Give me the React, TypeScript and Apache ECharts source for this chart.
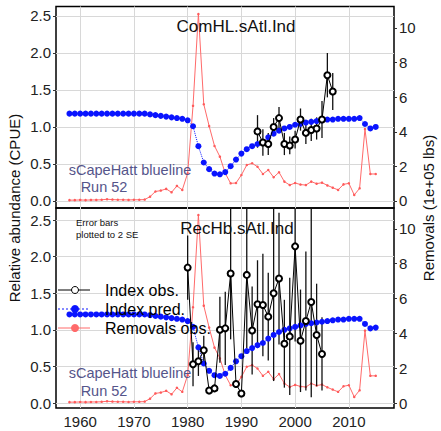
import React, { useRef, useEffect } from 'react';
import * as echarts from 'echarts';

const years: number[] = [];
for (let y = 1958; y <= 2015; y++) years.push(y);

// Removals (1e+05 lbs), 1958-2015
const removals = [
  0.05, 0.05, 0.06, 0.05, 0.06, 0.06, 0.07, 0.1, 0.08, 0.07, 0.07, 0.06, 0.07, 0.07, 0.08,
  0.25, 0.55, 0.6, 0.7, 0.5, 0.87, 0.64, 1.6, 5.5, 10.8, 5.59, 4.33, 3.18, 2.56, 1.6,
  1.02, 1.04, 1.5, 2.08, 2.18, 1.98, 1.56, 1.79, 1.37, 1.66, 1.12, 0.92, 1.04, 0.95, 0.92,
  1.12, 1.0, 1.06, 0.9, 0.77, 0.64, 0.96, 1.02, 0.35, 0.73, 4.16, 1.56, 1.56,
];

// Predicted index, ComHL.sAtl.Ind
const predTop = [
  1.18, 1.18, 1.18, 1.18, 1.18, 1.18, 1.18, 1.18, 1.18, 1.18, 1.18, 1.18, 1.18, 1.18, 1.18,
  1.17, 1.16, 1.15, 1.14, 1.13, 1.12, 1.11, 1.09, 1.01, 0.74, 0.52, 0.43, 0.37, 0.36, 0.39,
  0.47, 0.56, 0.64, 0.7, 0.74, 0.77, 0.8, 0.86, 0.91, 0.95, 0.98, 1.0, 1.03, 1.04, 1.06,
  1.07, 1.08, 1.09, 1.1, 1.1, 1.11, 1.11, 1.11, 1.11, 1.12, 1.04, 0.98, 1.0,
];

// Predicted index, RecHb.sAtl.Ind
const predBot = [
  1.21, 1.21, 1.21, 1.21, 1.21, 1.21, 1.21, 1.21, 1.21, 1.21, 1.21, 1.21, 1.21, 1.21, 1.21,
  1.2, 1.19, 1.18, 1.17, 1.16, 1.15, 1.14, 1.12, 1.04, 0.76, 0.54, 0.44, 0.38, 0.37, 0.4,
  0.48, 0.57, 0.64, 0.71, 0.75, 0.79, 0.82, 0.88, 0.93, 0.97, 1.0, 1.02, 1.04, 1.06, 1.08,
  1.09, 1.1, 1.11, 1.12, 1.13, 1.14, 1.14, 1.15, 1.15, 1.15, 1.08, 1.02, 1.03,
];

const obsTopYears = [1993, 1994, 1995, 1996, 1997, 1998, 1999, 2000, 2001, 2002, 2003, 2004, 2005, 2006, 2007];
const obsTop = [0.94, 0.79, 0.77, 1.0, 1.12, 0.77, 0.75, 0.83, 1.1, 0.92, 0.96, 0.98, 1.1, 1.7, 1.48];
const errTop = [0.22, 0.18, 0.15, 0.12, 0.15, 0.15, 0.12, 0.12, 0.15, 0.15, 0.15, 0.15, 0.25, 0.3, 0.25];

const obsBotYears = [
  1980, 1981, 1982, 1983, 1984, 1985, 1986, 1987, 1988, 1989, 1990, 1991, 1992,
  1993, 1994, 1995, 1996, 1997, 1998, 1999, 2000, 2001, 2002, 2003, 2004, 2005,
];
const obsBot = [
  1.85, 0.53, 0.57, 0.72, 0.17, 0.2, 1.0, 1.02, 1.77, 0.26, 0.13, 1.75, 0.99,
  1.35, 1.34, 1.18, 1.5, 1.7, 0.81, 0.91, 2.14, 0.85, 1.12, 1.38, 0.93, 0.67,
];
const errBot = [
  0.44, 0.3, 0.2, 0.2, 0.05, 0.05, 0.45, 0.5, 0.9, 0.05, 0.05, 1.0, 0.6,
  0.6, 0.7, 0.6, 1.2, 0.9, 0.6, 0.8, 1.3, 0.7, 0.95, 1.3, 0.7, 0.5,
];

const xTicks = [1960, 1970, 1980, 1990, 2000, 2010];
const leftTicks = [0, 0.5, 1, 1.5, 2, 2.5];
const rightTicks = [0, 2, 4, 6, 8, 10];

const X_MIN = 1955.5;
const X_MAX = 2018.4;
const LEFT = [
  { min: -0.095, max: 2.628 },
  { min: -0.068, max: 2.664 },
];
const RIGHT = [
  { min: -0.405, max: 11.24 },
  { min: -0.287, max: 11.2 },
];

const App = () => {
  const chartRef = useRef(null);

  useEffect(() => {
    const myChart = echarts.init(chartRef.current, null, { renderer: 'svg' });
    const font = 'Liberation Sans, Arial, sans-serif';

    const xAxis = (i: number) => ({
      type: 'value',
      gridIndex: i,
      min: X_MIN,
      max: X_MAX,
      axisLine: { show: false },
      splitLine: { show: false },
      axisTick: { show: false },
      axisLabel: {
        show: i === 1,
        customValues: xTicks,
        formatter: (v: number) => String(v),
        color: '#222',
        fontSize: 15,
        fontFamily: font,
        margin: 6,
      },
    });
    const yAxis = (i: number, right: boolean) => {
      const r = right ? RIGHT[i] : LEFT[i];
      return {
        type: 'value',
        gridIndex: i,
        position: right ? 'right' : 'left',
        min: r.min,
        max: r.max,
        axisLine: { show: false },
        splitLine: { show: false },
        axisTick: { show: true, customValues: right ? rightTicks : leftTicks, length: 3, lineStyle: { color: '#333' } },
        axisLabel: {
          customValues: right ? rightTicks : leftTicks,
          formatter: (v: number) => (right ? String(v) : v.toFixed(1)),
          color: '#222',
          fontSize: 15,
          fontFamily: font,
          margin: 5,
        },
      };
    };

    const gridLines = {
      silent: true,
      symbol: ['none', 'none'],
      label: { show: false },
      lineStyle: { color: '#d8d8d8', type: 'solid', width: 1 },
      data: [...xTicks.map((v) => ({ xAxis: v })), ...leftTicks.map((v) => ({ yAxis: v }))],
    };

    const errSeries = (i: number, ys: number[], vs: number[], es: number[]) => ({
      type: 'custom',
      xAxisIndex: i,
      yAxisIndex: i * 2,
      silent: true,
      z: 3,
      data: ys.map((y, k) => [y, Math.max(vs[k] - es[k], LEFT[i].min), Math.min(vs[k] + es[k], LEFT[i].max)]),
      renderItem: (params: any, api: any) => {
        const a = api.coord([api.value(0), api.value(1)]);
        const b = api.coord([api.value(0), api.value(2)]);
        return {
          type: 'line',
          shape: { x1: a[0], y1: a[1], x2: b[0], y2: b[1] },
          style: { stroke: '#111', lineWidth: 1.3 },
        };
      },
    });

    const panel = (i: number, pred: number[], oy: number[], ov: number[], oe: number[]) => [
      {
        type: 'line',
        xAxisIndex: i,
        yAxisIndex: i * 2 + 1,
        data: years.map((y, k) => [y, removals[k]]),
        symbol: 'circle',
        symbolSize: 2.5,
        itemStyle: { color: '#ff5a5a' },
        lineStyle: { color: '#ff6a6a', width: 1 },
        z: 2,
      },
      {
        type: 'line',
        xAxisIndex: i,
        yAxisIndex: i * 2,
        data: years.map((y, k) => [y, pred[k]]),
        symbol: 'circle',
        symbolSize: 6,
        itemStyle: { color: '#0a14ff' },
        lineStyle: { color: '#0a14ff', width: 1, type: 'dotted' },
        z: 4,
        markLine: { ...gridLines, z: 1 },
      },
      errSeries(i, oy, ov, oe),
      {
        type: 'line',
        xAxisIndex: i,
        yAxisIndex: i * 2,
        data: oy.map((y, k) => [y, ov[k]]),
        symbol: 'emptyCircle',
        symbolSize: 6,
        itemStyle: { color: '#000', borderWidth: 0.6 },
        lineStyle: { color: '#000', width: 1 },
        z: 5,
      },
    ];

    const txt = (x: number, y: number, text: string, size: number, color: string) => ({
      type: 'text',
      x,
      y,
      z: 100,
      style: { text, fontSize: size, fill: color, fontFamily: font, textAlign: 'center', textVerticalAlign: 'middle' },
    });
    const ltxt = (x: number, y: number, text: string) => ({
      type: 'text',
      x,
      y,
      z: 100,
      style: { text, fontSize: 16, fill: '#000', fontFamily: font, textVerticalAlign: 'middle' },
    });

    const legendY = [290, 309, 328];
    const option = {
      animation: false,
      grid: [
        { left: 56, top: 6.5, width: 338, height: 201.5, show: true, borderColor: '#000', borderWidth: 1.5, backgroundColor: 'transparent' },
        { left: 56, top: 208, width: 338, height: 200, show: true, borderColor: '#000', borderWidth: 1.5, backgroundColor: 'transparent' },
      ],
      xAxis: [xAxis(0), xAxis(1)],
      yAxis: [yAxis(0, false), yAxis(0, true), yAxis(1, false), yAxis(1, true)],
      series: [
        ...panel(0, predTop, obsTopYears, obsTop, errTop),
        ...panel(1, predBot, obsBotYears, obsBot, errBot),
      ],
      graphic: [
        txt(236, 26, 'ComHL.sAtl.Ind', 17, '#111'),
        txt(237, 228, 'RecHb.sAtl.Ind', 17, '#111'),
        txt(130, 170, 'sCapeHatt blueline', 14.5, '#55558a'),
        txt(104, 187, 'Run 52', 14.5, '#55558a'),
        txt(130, 373, 'sCapeHatt blueline', 14.5, '#55558a'),
        txt(104, 391, 'Run 52', 14.5, '#55558a'),
        { type: 'text', x: 76, y: 216, z: 100, style: { text: 'Error bars\nplotted to 2 SE', fontSize: 9.5, fill: '#111', fontFamily: font, lineHeight: 12 } },
        { type: 'line', z: 100, shape: { x1: 58, y1: legendY[0], x2: 90, y2: legendY[0] }, style: { stroke: '#000', lineWidth: 1 } },
        { type: 'circle', z: 101, shape: { cx: 75, cy: legendY[0], r: 3.5 }, style: { fill: '#fff', stroke: '#000', lineWidth: 1 } },
        { type: 'line', z: 100, shape: { x1: 58, y1: legendY[1], x2: 90, y2: legendY[1] }, style: { stroke: '#0a14ff', lineWidth: 1, lineDash: [2, 2] } },
        { type: 'circle', z: 101, shape: { cx: 75, cy: legendY[1], r: 4 }, style: { fill: '#0a14ff' } },
        { type: 'line', z: 100, shape: { x1: 58, y1: legendY[2], x2: 90, y2: legendY[2] }, style: { stroke: '#ff6a6a', lineWidth: 1 } },
        { type: 'circle', z: 101, shape: { cx: 75, cy: legendY[2], r: 4 }, style: { fill: '#ff6a6a' } },
        ltxt(105, legendY[0], 'Index obs.'),
        ltxt(105, legendY[1], 'Index pred.'),
        ltxt(105, legendY[2], 'Removals obs.'),
        { type: 'text', x: 14, y: 208, rotation: Math.PI / 2, z: 100, style: { text: 'Relative abundance (CPUE)', fontSize: 15, fill: '#111', fontFamily: font, textAlign: 'center', textVerticalAlign: 'middle' } },
        { type: 'text', x: 428, y: 208, rotation: Math.PI / 2, z: 100, style: { text: 'Removals (1e+05 lbs)', fontSize: 15, fill: '#111', fontFamily: font, textAlign: 'center', textVerticalAlign: 'middle' } },
      ],
    };

    myChart.setOption(option);

    return () => {
      myChart.dispose();
    };
  }, []);

  return <div ref={chartRef} style={{ width: 441, height: 431, position: 'absolute', left: 0, top: 0 }} />;
};

export default App;
